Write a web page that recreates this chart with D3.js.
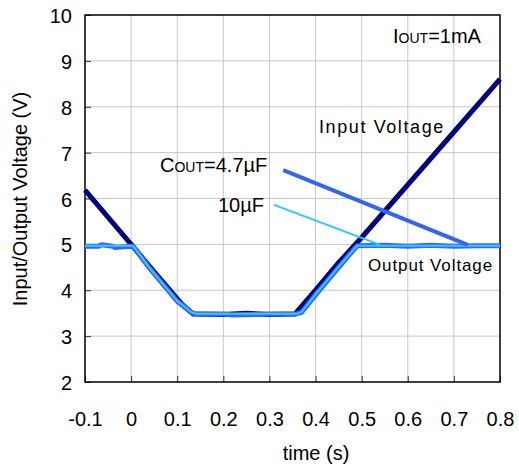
<!DOCTYPE html>
<html lang="en">
<head>
<meta charset="utf-8"/>
<title>Input/Output Voltage vs time</title>
<script src="https://cdn.jsdelivr.net/npm/d3@7/dist/d3.min.js"></script>
<style>
  body { margin: 0; background: #fff; }
  svg text { font-family: "Liberation Sans", Arial, sans-serif; fill: #000; }
</style>
</head>
<body>
<svg id="chart"></svg>
<script>
// ---- data ----
const xTicks = [-0.1, 0, 0.1, 0.2, 0.3, 0.4, 0.5, 0.6, 0.7, 0.8]
const yTicks = [2, 3, 4, 5, 6, 7, 8, 9, 10]

const inputT = [-0.1, 0.0, 0.02, 0.05, 0.08, 0.11, 0.135, 0.2, 0.25, 0.3, 0.355, 0.4, 0.45, 0.5, 0.6, 0.7, 0.8]
const inputV = [6.18, 5.0, 4.76, 4.4, 4.05, 3.7, 3.48, 3.47, 3.5, 3.47, 3.48, 4.0, 4.6, 5.15, 6.3, 7.45, 8.6]

const out47T = [-0.1, -0.07, -0.065, -0.04, -0.035, 0.0, 0.005, 0.04, 0.07, 0.1, 0.13, 0.14, 0.2, 0.22, 0.3, 0.36, 0.37, 0.4, 0.45, 0.49, 0.55, 0.6, 0.65, 0.7, 0.75, 0.8]
const out47V = [4.96, 4.96, 4.99, 4.96, 4.93, 4.96, 4.95, 4.48, 4.12, 3.76, 3.52, 3.48, 3.48, 3.46, 3.48, 3.49, 3.52, 3.9, 4.5, 4.97, 4.98, 4.96, 4.98, 4.96, 4.97, 4.97]

const out10T = [-0.1, 0.0, 0.005, 0.04, 0.07, 0.1, 0.13, 0.14, 0.36, 0.37, 0.4, 0.45, 0.49, 0.8]
const out10V = [4.97, 4.97, 4.96, 4.49, 4.13, 3.77, 3.53, 3.49, 3.49, 3.53, 3.91, 4.51, 4.97, 4.97]

// leader lines for the labels: [t, V] start and end
const lead47 = [[0.33, 6.62], [0.73, 4.99]]
const lead10 = [[0.31, 5.86], [0.54, 4.99]]

const width = 519
const height = 468
const margin = {top: 15, right: 19, bottom: 86, left: 85}

const svg = d3.select('#chart')
  .attr('width', width)
  .attr('height', height)

const x = d3.scaleLinear().domain([-0.1, 0.8]).range([margin.left, width - margin.right])
const y = d3.scaleLinear().domain([2, 10]).range([height - margin.bottom, margin.top])

// grid
const grid = svg.append('g')
grid.selectAll('.vx')
  .data(xTicks.slice(1, -1))
  .enter()
  .append('line')
  .attr('x1', d => x(d)).attr('x2', d => x(d))
  .attr('y1', y(2)).attr('y2', y(10))
  .attr('stroke', '#c8c8c8').attr('stroke-width', 1)
grid.selectAll('.hy')
  .data(yTicks.slice(1, -1))
  .enter()
  .append('line')
  .attr('x1', x(-0.1)).attr('x2', x(0.8))
  .attr('y1', d => y(d)).attr('y2', d => y(d))
  .attr('stroke', '#c8c8c8').attr('stroke-width', 1)

// axes with inside ticks
const xAxis = svg.append('g')
  .attr('transform', `translate(0,${y(2)})`)
  .call(d3.axisBottom(x).tickValues(xTicks).tickSizeInner(-6).tickSizeOuter(0).tickPadding(30)
    .tickFormat(d => d === 0 ? '0' : d3.format('.1f')(d).replace('−', '-')))
xAxis.select('.domain').remove()
xAxis.selectAll('text').style('font-size', '20px')

const yAxis = svg.append('g')
  .attr('transform', `translate(${x(-0.1)},0)`)
  .call(d3.axisLeft(y).tickValues(yTicks).tickSizeInner(-6).tickSizeOuter(0).tickPadding(13))
yAxis.select('.domain').remove()
yAxis.selectAll('text').style('font-size', '20px').attr('dy', '0.38em')
svg.selectAll('.tick line').attr('stroke', '#333')

// frame
svg.append('rect')
  .attr('x', x(-0.1)).attr('y', y(10))
  .attr('width', x(0.8) - x(-0.1)).attr('height', y(2) - y(10))
  .attr('fill', 'none').attr('stroke', '#000').attr('stroke-width', 1.5)

const line = d3.line().x(d => x(d[0])).y(d => y(d[1]))

const plot = svg.append('g')
plot.append('path')
  .datum(d3.zip(inputT, inputV))
  .attr('d', line)
  .attr('fill', 'none').attr('stroke', '#000080').attr('stroke-width', 5)
  .attr('stroke-linejoin', 'round')
plot.append('path')
  .datum(d3.zip(out47T, out47V))
  .attr('d', line)
  .attr('fill', 'none').attr('stroke', '#3366ff').attr('stroke-width', 5)
  .attr('stroke-linejoin', 'round')
plot.append('path')
  .datum(d3.zip(out10T, out10V))
  .attr('d', line)
  .attr('fill', 'none').attr('stroke', '#33ccff').attr('stroke-width', 2)

// leaders
plot.append('path').datum(lead47).attr('d', line)
  .attr('stroke', '#3366ee').attr('stroke-width', 4)
plot.append('path').datum(lead10).attr('d', line)
  .attr('stroke', '#22ccff').attr('stroke-width', 2)

// labels
const lab = svg.append('g')
const cout = lab.append('text').attr('x', 160).attr('y', 172).style('font-size', '20px')
cout.append('tspan').text('C')
cout.append('tspan').style('font-size', '14px').text('OUT')
cout.append('tspan').text('=4.7µF')

lab.append('text').attr('x', 218).attr('y', 212).style('font-size', '20px').text('10µF')

const iout = lab.append('text').attr('x', 393).attr('y', 43).style('font-size', '20px')
iout.append('tspan').text('I')
iout.append('tspan').style('font-size', '14px').text('OUT')
iout.append('tspan').text('=1mA')

lab.append('text').attr('x', 319).attr('y', 133).style('font-size', '18px')
  .style('letter-spacing', '1.6px').text('Input Voltage')
lab.append('text').attr('x', 368).attr('y', 271).style('font-size', '17px')
  .style('letter-spacing', '0.9px').text('Output Voltage')

// axis titles
svg.append('text')
  .attr('transform', 'translate(27,199) rotate(-90)')
  .attr('text-anchor', 'middle')
  .style('font-size', '20px')
  .text('Input/Output Voltage (V)')
svg.append('text')
  .attr('x', 316).attr('y', 460)
  .attr('text-anchor', 'middle')
  .style('font-size', '20px')
  .text('time (s)')
</script>
</body>
</html>
